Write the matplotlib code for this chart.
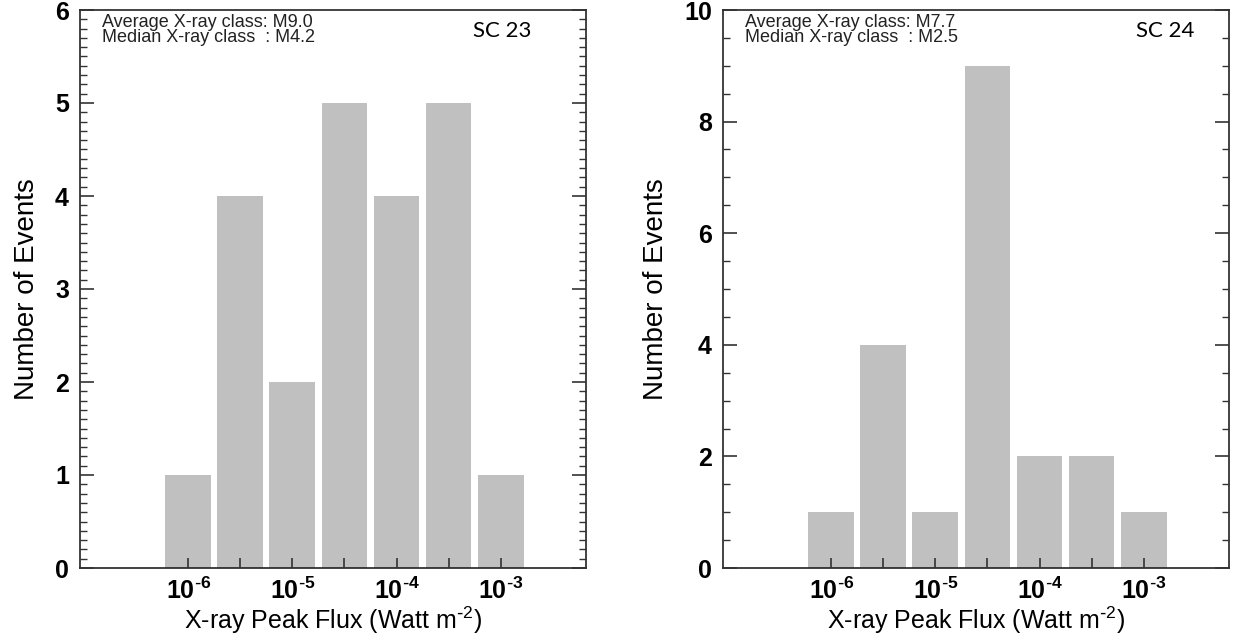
import matplotlib
matplotlib.use("Agg")
import matplotlib.pyplot as plt
from matplotlib.ticker import MultipleLocator, FixedLocator, NullFormatter

plt.rcParams["font.family"] = ["Liberation Sans", "DejaVu Sans"]
plt.rcParams["mathtext.default"] = "regular"

# bin centres as log10 of peak flux (half-decade bins)
flux_exp = [-6.0, -5.5, -5.0, -4.5, -4.0, -3.5, -3.0]
counts_sc23 = [1, 4, 2, 5, 4, 5, 1]
counts_sc24 = [1, 4, 1, 9, 2, 2, 1]
decade_ticks = [-6, -5, -4, -3]
decade_labels = ["$10^{\\text{-}6}$", "$10^{\\text{-}5}$",
                 "$10^{\\text{-}4}$", "$10^{\\text{-}3}$"]

panels = [
    dict(counts=counts_sc23, label="SC 23", avg="M9.0", med="M4.2",
         ymax=6, ymajor=1, yminor=0.1, left=80, lab_x=0.834, ylab_x=-0.080),
    dict(counts=counts_sc24, label="SC 24", avg="M7.7", med="M2.5",
         ymax=10, ymajor=2, yminor=0.5, left=723, lab_x=0.873, ylab_x=-0.106),
]

W, H = 1233, 643
fig = plt.figure(figsize=(W / 100, H / 100), dpi=100)
fig.patch.set_facecolor("white")

for p in panels:
    ax = fig.add_axes([p["left"] / W, (H - 568) / H, 506 / W, 558 / H])
    ax.bar(flux_exp, p["counts"], width=0.44, color="#c0c0c0", zorder=1)

    ax.set_xlim(-7.04, -2.18)
    ax.set_ylim(0, p["ymax"])

    # x ticks: labelled decades, unlabelled half-decades, same length
    ax.xaxis.set_major_locator(FixedLocator(decade_ticks))
    ax.xaxis.set_minor_locator(FixedLocator([-5.5, -4.5, -3.5]))
    ax.set_xticklabels(decade_labels, fontweight="bold")
    ax.xaxis.set_minor_formatter(NullFormatter())
    ax.tick_params(axis="x", which="both", direction="in", length=7,
                   width=1.2, top=False, labelsize=18, pad=7, color="#333333")

    ax.yaxis.set_major_locator(MultipleLocator(p["ymajor"]))
    ax.yaxis.set_minor_locator(MultipleLocator(p["yminor"]))
    ax.tick_params(axis="y", which="major", direction="in", length=10,
                   width=1.2, right=True, labelsize=18, pad=8, color="#333333")
    ax.tick_params(axis="y", which="minor", direction="in", length=5,
                   width=1.0, right=True, color="#333333")
    for t in ax.get_yticklabels():
        t.set_fontweight("bold")
    ax.set_axisbelow(False)

    for s in ax.spines.values():
        s.set_linewidth(1.2)
        s.set_color("#222222")

    ax.set_xlabel("X-ray Peak Flux (Watt m$^{\\text{-}2}$)", fontsize=18, labelpad=0)
    ax.set_ylabel("Number of Events", fontsize=20)
    ax.yaxis.set_label_coords(p["ylab_x"], 0.5)

    ax.text(0.043, 0.993,
            f"Average X-ray class: {p['avg']}\nMedian X-ray class  : {p['med']}",
            transform=ax.transAxes, ha="left", va="top", fontsize=13,
            linespacing=0.88, color="#222222")
    ax.text(p["lab_x"], 0.962, p["label"], transform=ax.transAxes,
            ha="center", va="center", fontsize=16,
            family=["Lato", "DejaVu Sans"])

fig.savefig("out.png", dpi=100)
